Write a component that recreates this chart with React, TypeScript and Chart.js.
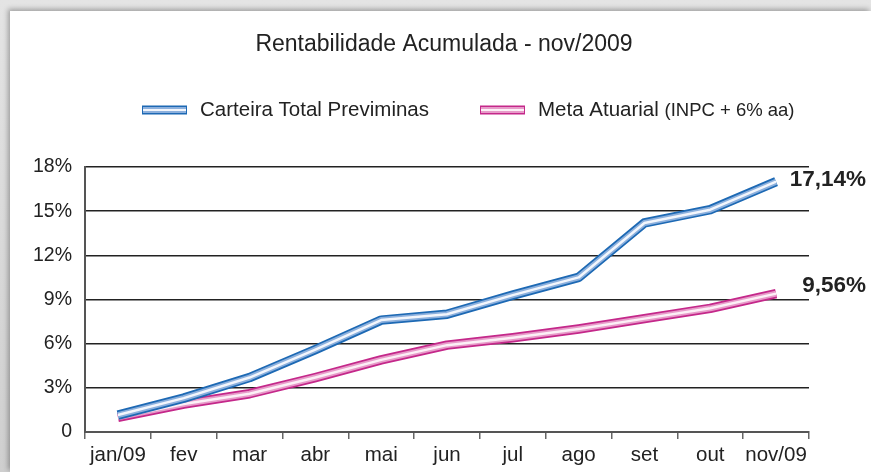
import React, { useEffect, useRef } from "react";
import { Chart, registerables } from "chart.js";

Chart.register(...registerables);

const TITLE = "Rentabilidade Acumulada - nov/2009";
const months = ["jan/09", "fev", "mar", "abr", "mai", "jun", "jul", "ago", "set", "out", "nov/09"];
const carteira = [1.15, 2.3, 3.7, 5.6, 7.6, 8.0, 9.3, 10.5, 14.2, 15.1, 17.0];
const meta = [1.0, 1.9, 2.6, 3.7, 4.9, 5.9, 6.4, 7.0, 7.7, 8.4, 9.4];
const yTicks = [0, 3, 6, 9, 12, 15, 18];
const carteiraLabel = "Carteira Total Previminas";
const metaLabel = "Meta Atuarial";
const metaLabelSmall = "(INPC + 6% aa)";
const carteiraFinal = "17,14%";
const metaFinal = "9,56%";

const FONT = "'Liberation Sans', Arial, sans-serif";
const BLUE = ["#1d69b4", "#8cb0dd", "#f3f6fc"];
const PINK = ["#c4288a", "#e79bc9", "#fcf0f6"];

function tube(data: number[], colors: string[], baseOrder: number) {
  const widths = [9.5, 6, 2.5];
  return colors.map((c, i) => ({
    label: "",
    data,
    borderColor: c,
    borderWidth: widths[i],
    pointRadius: 0,
    fill: false,
    tension: 0,
    borderJoinStyle: "round" as const,
    order: baseOrder + (2 - i),
  }));
}

const overlay = {
  id: "overlay",
  afterDraw(chart: any) {
    const ctx = chart.ctx as CanvasRenderingContext2D;
    const area = chart.chartArea;
    ctx.save();
    // title
    ctx.fillStyle = "#222";
    ctx.font = `23px ${FONT}`;
    ctx.textAlign = "center";
    ctx.textBaseline = "middle";
    ctx.fillText(TITLE, (area.left + area.right) / 2 - 3, 34);

    // legend
    const ly = 99;
    const drawBox = (x: number, cols: string[]) => {
      ctx.fillStyle = cols[0];
      ctx.fillRect(x, ly - 4.5, 45, 9);
      ctx.fillStyle = cols[1];
      ctx.fillRect(x + 1, ly - 3, 43, 6);
      ctx.fillStyle = cols[2];
      ctx.fillRect(x + 1, ly - 1, 43, 2);
    };
    ctx.textAlign = "left";
    const x1 = area.left + 57;
    drawBox(x1, BLUE);
    ctx.fillStyle = "#222";
    ctx.font = `20.5px ${FONT}`;
    ctx.fillText(carteiraLabel, x1 + 58, ly);
    const x2 = area.left + 395;
    drawBox(x2, PINK);
    ctx.fillStyle = "#222";
    ctx.font = `20.5px ${FONT}`;
    ctx.fillText(metaLabel, x2 + 58, ly);
    const w = ctx.measureText(metaLabel + " ").width;
    ctx.font = `18.5px ${FONT}`;
    ctx.fillText(metaLabelSmall, x2 + 58 + w, ly + 1);

    // final values
    ctx.font = `bold 22.5px ${FONT}`;
    ctx.textAlign = "right";
    ctx.fillStyle = "#222";
    const m0 = chart.getDatasetMeta(0);
    const m3 = chart.getDatasetMeta(3);
    const p0 = m0.data[m0.data.length - 1];
    const p3 = m3.data[m3.data.length - 1];
    ctx.fillText(carteiraFinal, chart.width - 5, p0.y - 2);
    ctx.fillText(metaFinal, chart.width - 5, p3.y - 8);
    ctx.restore();
  },
};

export default function App() {
  const ref = useRef<HTMLCanvasElement>(null);
  useEffect(() => {
    if (!ref.current) return;
    const chart = new Chart(ref.current, {
      type: "line",
      data: {
        labels: months,
        datasets: [...tube(carteira, BLUE, 0), ...tube(meta, PINK, 3)],
      },
      options: {
        animation: false,
        responsive: false,
        layout: { padding: { top: 156, right: 62, left: 0, bottom: 0 } },
        plugins: { legend: { display: false }, title: { display: false }, tooltip: { enabled: false } },
        scales: {
          x: {
            type: "category",
            offset: true,
            grid: {
              display: true,
              offset: true,
              drawOnChartArea: false,
              drawTicks: true,
              tickLength: 7,
              color: "#666",
              lineWidth: 1.5,
            },
            border: { display: true, color: "#555", width: 2 },
            ticks: { color: "#222", font: { family: FONT, size: 20.5 }, padding: 4, maxRotation: 0, autoSkip: false },
            afterFit(scale: any) {
              scale.height = 40;
            },
          },
          y: {
            min: 0,
            max: 18,
            afterBuildTicks(scale: any) {
              scale.ticks = yTicks.map((v) => ({ value: v }));
            },
            grid: { color: "#222", lineWidth: 1.5, drawTicks: false },
            border: { display: true, color: "#555", width: 2 },
            ticks: {
              color: "#222",
              font: { family: FONT, size: 19.5 },
              padding: 13,
              callback: (v: any) => (Number(v) === 0 ? "0" : `${v}%`),
            },
            afterFit(scale: any) {
              scale.width = 75;
            },
          },
        },
      },
      plugins: [overlay],
    });
    return () => chart.destroy();
  }, []);
  return (
    <div style={{ position: "fixed", left: 0, top: 0, width: 871, height: 472, background: "linear-gradient(#e4e4e4, #cfcfcf)", overflow: "hidden" }}>
      <div style={{ position: "absolute", left: 10, top: 11, width: 861, height: 461, background: "#fff", boxShadow: "-2px -2px 5px rgba(0,0,0,0.3)" }}>
        <canvas ref={ref} width={861} height={461} style={{ display: "block" }} />
      </div>
    </div>
  );
}
